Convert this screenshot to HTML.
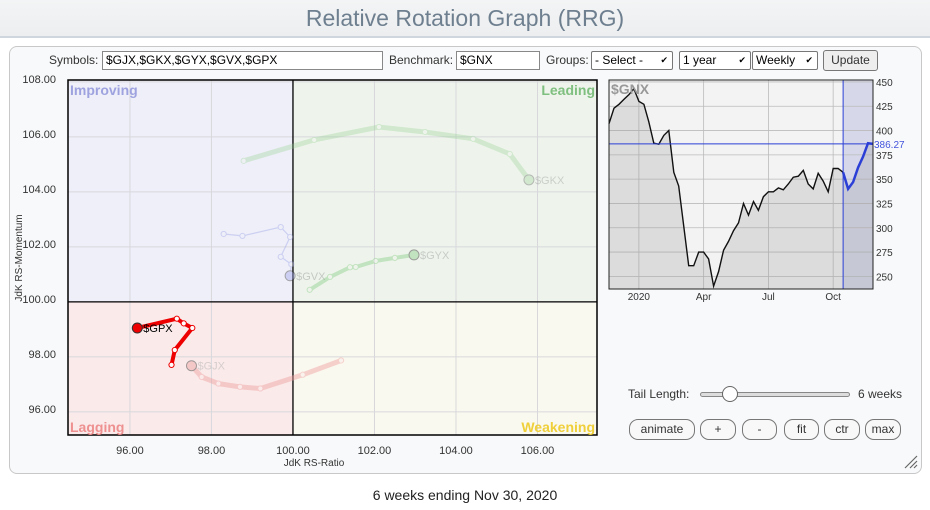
<!DOCTYPE html>
<html><head><meta charset="utf-8"><style>
body{margin:0;width:930px;height:510px;background:#fff;font-family:"Liberation Sans",Arial,sans-serif;position:relative;overflow:hidden}
.hdr{position:absolute;left:0;top:0;width:930px;height:36px;background:linear-gradient(#f3f4f5,#eceef0);border-bottom:2px solid #cfd6dd}
.hdr div{text-align:center;font-size:23px;color:#6e7f8f;line-height:36px}
.panel{position:absolute;left:9px;top:46px;width:911px;height:426px;border:1px solid #c8c8c8;border-radius:8px;background:#f8f9fa}
.lbl{position:absolute;font-size:12px;color:#333}
.inp{position:absolute;height:17px;border:1px solid #888;background:#fff;font-size:12px;line-height:17px;padding-left:3px;box-sizing:content-box;color:#000}
.sel{position:absolute;height:17px;border:1px solid #777;background:#fff;font-size:12px;line-height:17px;padding-left:3px;border-radius:2px}
.sel span{position:absolute;right:4px;top:0;font-size:9px}
.btn{position:absolute;height:19px;border:1px solid #777;border-radius:9px;background:#f8f8f8;font-size:12px;line-height:19px;text-align:center;color:#333}
</style></head><body>
<div class="hdr"><div>Relative Rotation Graph (RRG)</div></div>
<div class="panel"></div>
<div class="lbl" style="left:49px;top:53px">Symbols:</div>
<div class="inp" style="left:102px;top:51px;width:276px">$GJX,$GKX,$GYX,$GVX,$GPX</div>
<div class="lbl" style="left:389px;top:53px;width:63px;text-align:right">Benchmark:</div>
<div class="inp" style="left:456px;top:51px;width:79px">$GNX</div>
<div class="lbl" style="left:546px;top:53px">Groups:</div>
<div class="sel" style="left:591px;top:51px;width:77px">- Select -<span>&#10004;</span></div>
<div class="sel" style="left:679px;top:51px;width:67px">1 year<span>&#10004;</span></div>
<div class="sel" style="left:752px;top:51px;width:61px">Weekly<span>&#10004;</span></div>
<div class="btn" style="left:823px;top:50px;width:53px;border-radius:3px;background:#eee">Update</div>

<svg id="rrg" width="930" height="510" style="position:absolute;left:0;top:0"></svg>

<div class="lbl" style="left:628px;top:387px;font-size:12px">Tail Length:</div>
<div style="position:absolute;left:700px;top:392px;width:148px;height:3px;border:1px solid #888;border-radius:3px;background:#ddd"></div>
<div style="position:absolute;left:722px;top:386px;width:14px;height:14px;border:1px solid #666;border-radius:50%;background:#fff"></div>
<div class="lbl" style="left:858px;top:387px">6 weeks</div>
<div class="btn" style="left:629px;top:419px;width:64px">animate</div>
<div class="btn" style="left:700px;top:419px;width:34px">+</div>
<div class="btn" style="left:742px;top:419px;width:33px">-</div>
<div class="btn" style="left:784px;top:419px;width:33px">fit</div>
<div class="btn" style="left:824px;top:419px;width:34px">ctr</div>
<div class="btn" style="left:865px;top:419px;width:34px">max</div>
<div style="position:absolute;left:0;top:487px;width:930px;text-align:center;font-size:14px;color:#222">6 weeks ending Nov 30, 2020</div>

<script>
const xTicks=[96,98,100,102,104,106];
const yTicks=[96,98,100,102,104,106,108];
const symbols=["$GKX","$GYX","$GVX","$GJX","$GPX"];
const gkxX=[98.79,100.52,102.11,103.24,104.42,105.32,105.79];
const gkxY=[105.13,105.89,106.36,106.18,105.93,105.38,104.44];
const gyxX=[100.41,100.91,101.40,101.54,102.03,102.50,102.97];
const gyxY=[100.44,100.91,101.26,101.27,101.49,101.60,101.71];
const gvxX=[98.30,98.76,99.70,99.93,99.70,99.96,99.93];
const gvxY=[102.47,102.40,102.72,102.36,101.64,101.37,100.95];
const gjxX=[101.18,100.24,99.20,98.70,98.17,97.76,97.51];
const gjxY=[97.87,97.35,96.85,96.91,97.03,97.27,97.68];
const gpxX=[97.02,97.10,97.53,97.32,97.15,96.18];
const gpxY=[97.71,98.25,99.05,99.22,99.39,99.05];
const benchValues=[407,423,427,432,437,443,430,427,409,387,386,395,400,357,343,302,261,261,275,275,268,240,255,277,286,297,305,325,313,327,318,332,337,337,341,339,345,352,353,359,345,340,356,348,337,361,361,357,340,347,362,373,387,386.27];
const benchTicks=[250,275,300,325,350,375,400,425,450];
const benchMonths=["2020","Apr","Jul","Oct"];
const benchMonthWeek=[6,19,32,45];
const benchSplit=47;

const NS="http://www.w3.org/2000/svg";
const svg=document.getElementById('rrg');
function el(t,a,p){const e=document.createElementNS(NS,t);for(const k in a)e.setAttribute(k,a[k]);(p||svg).appendChild(e);return e;}
const L=68,R=597,T=80,B=435;
const xmin=94.48,xmax=107.46,ymin=95.16,ymax=108.07;
const sx=v=>L+(v-xmin)/(xmax-xmin)*(R-L);
const sy=v=>B-(v-ymin)/(ymax-ymin)*(B-T);
const cx=sx(100),cy=sy(100);
let q;
q=el('rect',{x:L,y:T,width:cx-L,height:cy-T,fill:'#eeeff8'});
q=el('rect',{x:cx,y:T,width:R-cx,height:cy-T,fill:'#eef4ec'});
q=el('rect',{x:L,y:cy,width:cx-L,height:B-cy,fill:'#faeaea'});
q=el('rect',{x:cx,y:cy,width:R-cx,height:B-cy,fill:'#faf9ef'});
xTicks.forEach(v=>{const g=el('line',{x1:sx(v),x2:sx(v),y1:T,y2:B,stroke:'#d8d8dc','stroke-width':1});
 const t=el('text',{x:sx(v),y:454,'font-size':11,'text-anchor':'middle',fill:'#333'});t.textContent=v.toFixed(2);});
yTicks.forEach(v=>{const g=el('line',{x1:L,x2:R,y1:sy(v),y2:sy(v),stroke:'#d8d8dc','stroke-width':1});
 const t=el('text',{x:56,y:sy(v)+1,'font-size':11,'text-anchor':'end',fill:'#333'});t.textContent=v.toFixed(2);});
el('line',{x1:cx,x2:cx,y1:T,y2:B,stroke:'#000','stroke-width':1.3});
el('line',{x1:L,x2:R,y1:cy,y2:cy,stroke:'#000','stroke-width':1.3});
q=el('rect',{x:L,y:T,width:R-L,height:B-T,fill:'none',stroke:'#000','stroke-width':1.5});
[["Improving",L+2,95,'start','#9ea3e0','improving-label'],["Leading",R-2,95,'end','#7fbf7f','leading-label'],["Lagging",L+2,432,'start','#ef9090','lagging-label'],["Weakening",R-2,432,'end','#efcf3a','weakening-label']].forEach(a=>{
 const t=el('text',{x:a[1],y:a[2],'font-size':14,'font-weight':'bold','text-anchor':a[3],fill:a[4]});t.textContent=a[0];});
let t=el('text',{x:314,y:466,'font-size':10,'text-anchor':'middle',fill:'#333'});t.textContent="JdK RS-Ratio";
t=el('text',{x:0,y:0,'font-size':10,'text-anchor':'middle',fill:'#333',transform:'translate(22,258) rotate(-90)'});t.textContent="JdK RS-Momentum";

function tail(xs,ys,name,col,w,op,mk,lblCol){
 const g=el('g',{opacity:op});
 
 
 const d=xs.map((x,i)=>(i?'L':'M')+sx(x).toFixed(1)+','+sy(ys[i]).toFixed(1)).join(' ');
 el('path',{d:d,fill:'none',stroke:col,'stroke-width':w,'stroke-linejoin':'round','stroke-linecap':'round'},g);
 for(let i=0;i<xs.length-1;i++){const c=el('circle',{cx:sx(xs[i]),cy:sy(ys[i]),r:2.6,fill:mk,stroke:col,'stroke-width':1},g);}
 const n=xs.length-1;
 const c=el('circle',{cx:sx(xs[n]),cy:sy(ys[n]),r:5,fill:col,stroke:'#333','stroke-width':1},g);
 const tx=el('text',{x:sx(xs[n])+6,y:sy(ys[n])+4,'font-size':11,fill:lblCol},g);tx.textContent=name;
}
tail(gkxX,gkxY,symbols[0],'#8fcf8a',5,0.3,'#eef4ec','#777');
tail(gyxX,gyxY,symbols[1],'#8fcf8a',4,0.45,'#eef4ec','#999');
tail(gvxX,gvxY,symbols[2],'#9aa0e8',1.2,0.4,'#eeeff8','#888');
tail(gjxX,gjxY,symbols[3],'#f0a0a0',5,0.45,'#faeaea','#aaa');
tail(gpxX,gpxY,symbols[4],'#ee0000',4,1,'#fff','#000');

const bL=609,bR=873,bT=80,bB=289;
const bmin=237,bmax=452;
const bx=i=>bL+(i/(benchValues.length-1))*(bR-bL);
const by=v=>bB-(v-bmin)/(bmax-bmin)*(bB-bT);
q=el('rect',{x:bL,y:bT,width:bR-bL,height:bB-bT,fill:'#f3f3f3'});
q=el('rect',{x:bx(benchSplit),y:bT,width:bR-bx(benchSplit),height:bB-bT,fill:'#d6d8ea'});
benchTicks.forEach(v=>{el('line',{x1:bL,x2:bR,y1:by(v),y2:by(v),stroke:'#bbb','stroke-width':0.8});
 const tt=el('text',{x:bR+3,y:by(v)+4,'font-size':10,fill:'#333'});tt.textContent=v;});
benchMonthWeek.forEach((w,i)=>{el('line',{x1:bx(w),x2:bx(w),y1:bT,y2:bB,stroke:'#bbb','stroke-width':0.8});
 const tt=el('text',{x:bx(w),y:300,'font-size':10,'text-anchor':'middle',fill:'#333'});tt.textContent=benchMonths[i];});
const area='M'+bx(0)+','+bB+' '+benchValues.map((v,i)=>'L'+bx(i).toFixed(1)+','+by(v).toFixed(1)).join(' ')+' L'+bR+','+bB+'Z';
q=el('path',{d:area,fill:'rgba(150,150,150,0.25)'});
const l1=benchValues.slice(0,benchSplit+1).map((v,i)=>(i?'L':'M')+bx(i).toFixed(1)+','+by(v).toFixed(1)).join(' ');
q=el('path',{d:l1,fill:'none',stroke:'#111','stroke-width':1.4});
const l2=benchValues.map((v,i)=>[i,v]).slice(benchSplit).map((p,k)=>(k?'L':'M')+bx(p[0]).toFixed(1)+','+by(p[1]).toFixed(1)).join(' ');
q=el('path',{d:l2,fill:'none',stroke:'#2b3fd6','stroke-width':2.5});
const last=benchValues[benchValues.length-1];
el('line',{x1:bx(benchSplit),x2:bx(benchSplit),y1:bT,y2:bB,stroke:'#2b3fd6','stroke-width':1});
el('line',{x1:bL,x2:bR,y1:by(last),y2:by(last),stroke:'#2b3fd6','stroke-width':1});
q=el('rect',{x:bL,y:bT,width:bR-bL,height:bB-bT,fill:'none',stroke:'#222','stroke-width':1});
t=el('text',{x:bR+1,y:by(last)+4,'font-size':10,fill:'#4455dd'});t.textContent=last.toFixed(2);
t=el('text',{x:bL+2,y:bT+14,'font-size':14,'font-weight':'bold',fill:'#999'});t.textContent="$GNX";
el('path',{d:'M905,468 L917,456 M910,468 L917,461 M914,468 L917,465',stroke:'#666','stroke-width':1.2});
</script>
</body></html>
